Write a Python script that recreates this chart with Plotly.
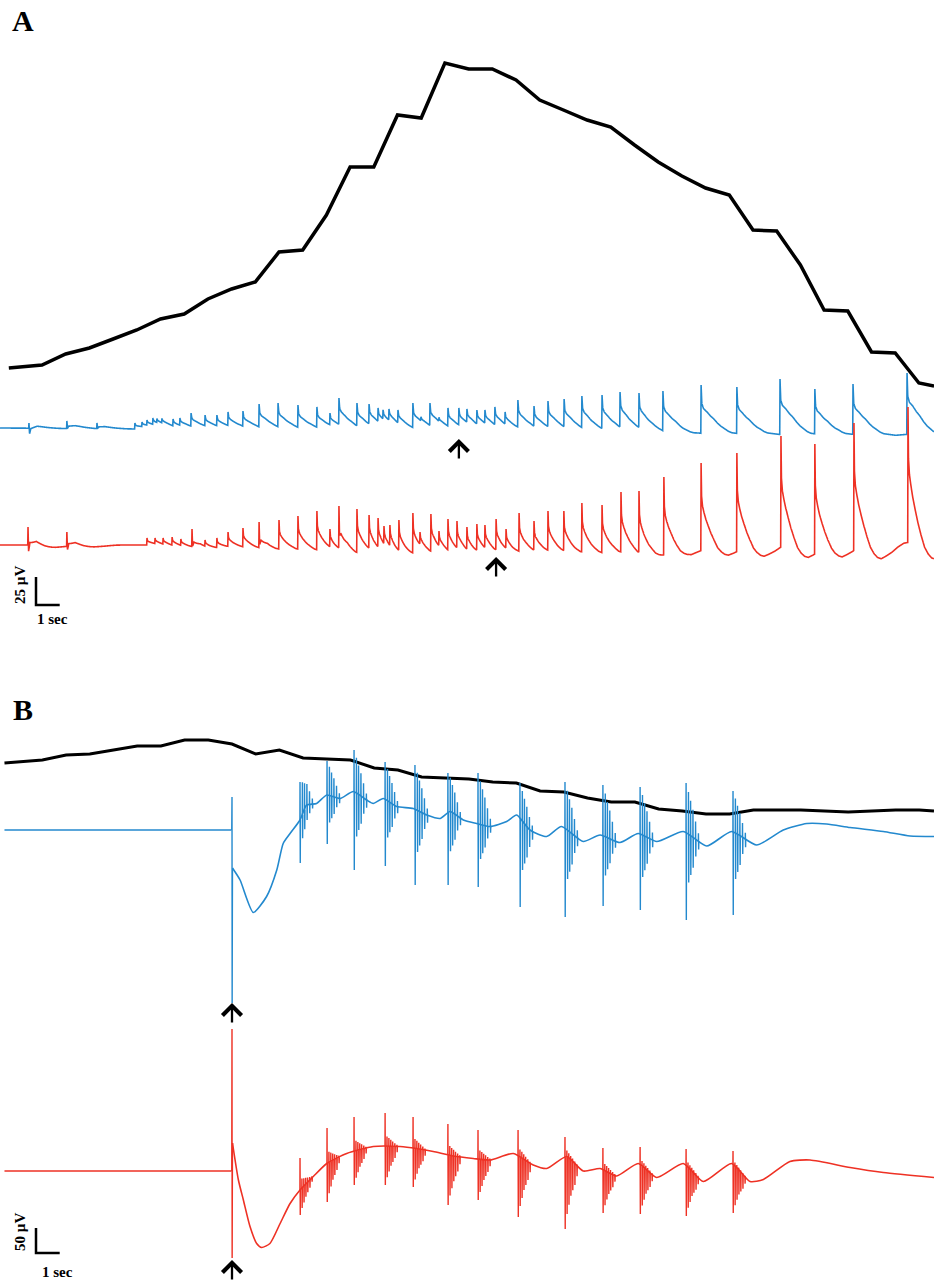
import numpy as np
import plotly.graph_objects as go

# ======================= DATA =======================
# ---- Panel A (time in s, traces in µV, black curve in arbitrary units) ----
A_black_t = [-0.4, 1, 2, 3, 4, 5, 6, 7, 8, 9, 10, 11, 12, 13, 14, 15, 16, 17, 18, 19, 20,
             21, 22, 23, 24, 25, 26, 27, 28, 29, 30, 31, 32, 33, 34, 35, 36, 37, 38, 38.64]
A_black_v = [3.2, 3.5, 4.6, 5.2, 6.1, 7.0, 8.1, 8.6, 10.1, 11.1, 11.8, 14.8, 15.0, 18.5, 23.3,
             23.3, 28.5, 28.2, 33.7, 33.1, 33.1, 32.0, 30.0, 29.0, 28.0, 27.3, 25.5, 23.8, 22.4,
             21.2, 20.5, 17.0, 16.9, 13.5, 9.0, 8.9, 4.8, 4.7, 1.7, 1.4]

A_blue_t = [0.45, 2.05, 3.32, 4.92, 5.22, 5.43, 5.68, 5.85, 6.06, 6.53, 6.82, 7.29, 7.88, 8.38,
            8.85, 9.48, 10.16, 10.96, 11.80, 12.60, 13.15, 13.53, 14.29, 14.80, 15.18, 15.39,
            15.64, 16.02, 16.65, 16.99, 17.37, 17.75, 18.13, 18.59, 18.93, 19.35, 19.69, 20.11,
            20.54, 21.08, 21.76, 22.35, 23.03, 23.78, 24.63, 25.39, 26.19, 27.20, 28.81, 30.32,
            32.14, 33.61, 35.22, 37.50]
A_blue_peak = [4.5, 6.3, 4.5, 4.5, 5.4, 7.1, 8.9, 7.1, 8.0, 8.0, 8.9, 13.4, 11.6, 11.6, 14.3,
               15.2, 21.4, 22.3, 20.5, 18.8, 13.4, 26.8, 22.3, 21.4, 17.9, 16.1, 17.0, 16.1,
               22.3, 7.1, 22.3, 7.1, 17.9, 17.9, 17.0, 16.1, 16.1, 18.8, 14.3, 25.0, 19.6, 24.1,
               25.9, 28.6, 29.5, 32.1, 31.3, 33.0, 38.4, 36.6, 43.8, 34.8, 39.3, 49.1]
A_blue_neg_t = [0.45, 2.05, 3.32]
A_blue_neg_v = [-8.0, -4.1, -3.0]
A_blue_drift_t = [-0.8, 18.6, 38.7]
A_blue_drift_v = [0.0, -2.7, -5.4]

A_red_t = [0.41, 2.05, 5.43, 5.77, 6.11, 6.49, 6.86, 7.33, 7.88, 8.38, 8.85, 9.48, 10.16, 11.00,
           11.80, 12.60, 13.15, 13.53, 14.29, 14.80, 15.18, 15.43, 15.68, 16.06, 16.65, 16.95,
           17.41, 17.75, 18.13, 18.51, 18.93, 19.35, 19.69, 20.16, 20.58, 21.13, 21.76, 22.35,
           23.02, 23.78, 24.63, 25.43, 26.19, 27.24, 28.81, 30.32, 32.18, 33.61, 35.26, 37.54]
A_red_peak = [16.1, 11.6, 6.3, 6.3, 6.3, 7.1, 5.4, 14.3, 4.5, 6.3, 11.6, 15.2, 20.5, 22.3, 25.9,
              30.4, 14.3, 34.8, 32.1, 26.8, 24.1, 17.0, 17.9, 22.3, 28.6, 11.6, 27.7, 12.5, 23.2,
              21.4, 16.1, 18.8, 17.9, 23.2, 14.3, 28.6, 21.4, 30.4, 30.4, 37.5, 35.7, 47.3, 48.2,
              60.7, 73.2, 82.2, 97.3, 90.2, 108.9, 123.2]
A_red_neg_t = [0.41, 2.05, 7.33, 10.16, 13.53]
A_red_neg_v = [-15.2, -10.7, -8.9, -10.7, -10.7]
A_red_drift_t = [-0.8, 25.0, 38.7]
A_red_drift_v = [0.0, 0.0, 3.0]

A_arrow_blue_t = 18.59
A_arrow_red_t = 20.16

# ---- Panel B (time in s relative to stimulus) ----
B_black_t = [-9.6, -8, -7, -6, -5, -4, -3, -2, -1, 0, 1, 2, 3, 4, 5, 6, 7, 8, 9, 10, 11, 12,
             13, 14, 15, 16, 17, 18, 19, 20, 21, 22, 23, 24, 25, 26, 27, 28, 29, 29.62]
B_black_v = [5.7, 6.0, 6.5, 6.6, 7.0, 7.4, 7.4, 8.0, 8.0, 7.6, 6.6, 7.0, 6.2, 6.1, 6.0, 5.2,
             5.0, 4.3, 4.2, 4.1, 3.8, 3.7, 2.9, 2.8, 2.2, 1.8, 1.8, 1.1, 0.9, 0.6, 0.6, 1.0,
             1.0, 1.0, 0.9, 0.8, 0.9, 1.0, 1.0, 0.9]

B_blue_slow_t = [-9.6, -0.02, 0.02, 0.34, 0.90, 1.46, 1.89, 2.16, 2.45, 2.87, 3.15, 3.57, 4.00,
                 4.56, 5.12, 5.68, 5.96, 6.38, 6.95, 7.65, 8.22, 8.78, 9.20, 9.76, 10.32, 10.89,
                 11.59, 12.01, 12.57, 13.28, 13.90, 14.82, 15.53, 16.37, 17.14, 17.92, 19.04,
                 20.03, 21.08, 22.14, 23.26, 24.25, 25.09, 26.08, 27.48, 28.61, 29.62]
B_blue_slow_v = [0, 0, -76, -100, -165, -133, -80, -27, -7, 20, 50, 53, 70, 63, 77, 60, 53, 63,
                 47, 43, 30, 23, 37, 20, 13, 7, 17, 30, 0, -13, 7, -23, -10, -25, -7, -23, -3,
                 -32, -3, -30, 0, 13, 12, 5, -3, -12, -13]
B_blue_stim = [66, -346]
B_blue_burst_t = [2.87, 4.01, 5.15, 6.46, 7.72, 9.11, 10.38, 12.15, 14.05, 15.65, 17.22, 19.16, 21.14]
B_blue_burst_top = [96, 138, 160, 136, 130, 114, 114, 94, 96, 90, 86, 94, 78]
B_blue_burst_bot = [-66, -28, -80, -72, -110, -110, -114, -154, -174, -152, -160, -180, -170]

B_red_slow_t = [-9.6, -0.02, 0.02, 0.27, 0.48, 0.76, 1.04, 1.25, 1.60, 2.03, 2.45, 2.87, 3.43,
                4.00, 4.84, 5.96, 7.09, 7.79, 8.49, 9.34, 10.18, 10.89, 11.87, 12.71, 13.28,
                14.12, 14.82, 15.53, 16.23, 17.14, 17.92, 19.04, 19.89, 21.08, 21.86, 22.42,
                23.54, 24.39, 26.08, 27.48, 29.62]
B_red_slow_v = [0, 0, 56, -18, -58, -111, -145, -153, -145, -105, -65, -38, -11, 15, 35, 49, 49,
                45, 39, 30, 25, 22, 35, 12, 5, 29, 0, 5, -10, 15, -13, 15, -21, 15, -21, -17, 19,
                22, 7, -3, -13]
B_red_stim = [284, -174]
B_red_burst_t = [2.87, 4.01, 5.15, 6.46, 7.64, 9.11, 10.38, 12.07, 14.05, 15.65, 17.22, 19.16, 21.14]
B_red_burst_top = [26, 86, 108, 116, 108, 94, 82, 82, 68, 46, 48, 44, 40]
B_red_burst_bot = [-88, -62, -28, -28, -32, -68, -58, -92, -116, -84, -86, -90, -84]

# ======================= WAVEFORM SHAPES (style) =======================
BLUE_TPL_T = [-0.012, 0, 0.03, 0.1, 0.25, 0.4, 0.53, 0.7, 0.85, 1.0, 1.15, 1.3, 1.8, 2.5]
BLUE_TPL_F = [0, 1, 0.62, 0.52, 0.45, 0.36, 0.3, 0.2, 0.13, 0.08, 0.03, 0.0, -0.03, 0]
RED_TPL_T = [-0.012, 0, 0.02, 0.06, 0.12, 0.2, 0.3, 0.42, 0.55, 0.7, 0.85, 1.0, 1.15, 1.35,
             1.6, 1.85, 2.1, 2.4]
RED_TPL_F = [0, 1, 0.62, 0.5, 0.42, 0.33, 0.24, 0.14, 0.05, -0.04, -0.09, -0.12, -0.13, -0.11,
             -0.08, -0.04, -0.01, 0]
NEG_T = [0, 0.025, 0.08, 0.35]
NEG_F = [0, 1, 0.35, 0]
# burst sub-spikes: (time offset s, fraction of up excursion, fraction of down excursion)
BLUE_BURST = [(0.0, 1.0, 1.0), (0.1, 0.85, 0.55), (0.19, 0.7, 0.45), (0.29, 0.55, 0.35),
              (0.4, 0.35, 0.2), (0.52, 0.15, 0.1)]
RED_BURST = [(0.0, 1.0, 1.0), (0.08, 0.3, 0.8), (0.16, 0.25, 0.65), (0.24, 0.2, 0.5),
             (0.32, 0.15, 0.4), (0.41, 0.1, 0.3), (0.5, 0.05, 0.15)]


def spike_trace(times, peaks, tpl_t, tpl_f, neg_t, neg_v, drift_t, drift_v, t_lo, t_hi):
    times = np.asarray(times, float)
    grid = np.unique(np.concatenate([np.arange(t_lo, t_hi, 0.005), times, times + 0.02,
                                     np.asarray(neg_t) + 0.025]))
    placed = []
    for i in np.argsort(times):
        t0 = times[i]
        resid = np.interp(t0, drift_t, drift_v)
        for tj, a in placed:
            resid += a * np.interp(t0 - tj, tpl_t, tpl_f, left=0, right=0)
        a = max(peaks[i] - resid, 0.5 * peaks[i])
        placed.append((t0, a))
    v = np.interp(grid, drift_t, drift_v)
    for t0, a in placed:
        v = v + a * np.interp(grid - t0, tpl_t, tpl_f, left=0, right=0)
    for t0, nv in zip(neg_t, neg_v):
        v = v + nv * np.interp(grid - t0, NEG_T, NEG_F, left=0, right=0)
    return grid, v


def burst_segments(slow_t, slow_v, stim, b_t, b_top, b_bot, pattern):
    """Fast events drawn on top of the slow wave; segments separated by None."""
    st = np.asarray(slow_t, float)
    sv = np.asarray(slow_v, float)
    X, Y = [], []
    X += [-0.01, 0.0, 0.006, 0.02, None]
    Y += [0.0, stim[0], stim[1], float(np.interp(0.02, st, sv)), None]
    for tb, top, bot in zip(b_t, b_top, b_bot):
        s0 = np.interp(tb, st, sv)
        up, dn = top - s0, s0 - bot
        for dt, fu, fd in pattern:
            t = tb + dt
            s = float(np.interp(t, st, sv))
            X += [t - 0.004, t, t + 0.01, t + 0.018, None]
            Y += [s, s + fu * up, s - fd * dn, s, None]
    return X, Y


# ======================= LAYOUT GEOMETRY =======================
W, H = 934, 1281
PX_PER_S = 23.7
A_T0_PX = 18.3     # pixel column of t = 0 in panel A
B_T0_PX = 232.0    # pixel column of stimulus in panel B
A_DOM = (0.0, 640.5)
B_DOM = (640.5, 1281.0)


def yrange(base_px, per_px, dom):
    return [-(dom[1] - base_px) * per_px, (base_px - dom[0]) * per_px]


A_UV = 25.0 / 28.0
B_UV = 2.0
BLUE = "#2389CE"
RED = "#EE3124"
LW = 1.6

a_xr = [(0 - A_T0_PX) / PX_PER_S, (W - A_T0_PX) / PX_PER_S]
b_xr = [(0 - B_T0_PX) / PX_PER_S, (W - B_T0_PX) / PX_PER_S]

tb_, vb_ = spike_trace(A_blue_t, A_blue_peak, BLUE_TPL_T, BLUE_TPL_F, A_blue_neg_t,
                       A_blue_neg_v, A_blue_drift_t, A_blue_drift_v, a_xr[0], a_xr[1])
tr_, vr_ = spike_trace(A_red_t, A_red_peak, RED_TPL_T, RED_TPL_F, A_red_neg_t,
                       A_red_neg_v, A_red_drift_t, A_red_drift_v, a_xr[0], a_xr[1])
Bxb, Byb = burst_segments(B_blue_slow_t, B_blue_slow_v, B_blue_stim, B_blue_burst_t,
                          B_blue_burst_top, B_blue_burst_bot, BLUE_BURST)
Bxr, Byr = burst_segments(B_red_slow_t, B_red_slow_v, B_red_stim, B_red_burst_t,
                          B_red_burst_top, B_red_burst_bot, RED_BURST)

fig = go.Figure()


def line(x, y, xa, ya, color, width, shape="linear"):
    ln = dict(color=color, width=width, simplify=False, shape=shape)
    if shape == "spline":
        ln["smoothing"] = 0.6
    fig.add_trace(go.Scatter(x=x, y=y, mode="lines", xaxis=xa, yaxis=ya, hoverinfo="skip",
                             connectgaps=False, line=ln))


def slow_parts(t, v):
    t = list(t)
    v = list(v)
    k = next(i for i, x in enumerate(t) if x > 0)
    return (t[:k], v[:k]), (t[k:], v[k:])


line(tb_, vb_, "x", "y2", BLUE, LW)
line(tr_, vr_, "x", "y3", RED, LW)
line(A_black_t, A_black_v, "x", "y", "black", 3.5)

(pb_t, pb_v), (qb_t, qb_v) = slow_parts(B_blue_slow_t, B_blue_slow_v)
line(pb_t, pb_v, "x2", "y5", BLUE, LW)
line(qb_t, qb_v, "x2", "y5", BLUE, LW, "spline")
line(Bxb, Byb, "x2", "y5", BLUE, 1.4)
(pr_t, pr_v), (qr_t, qr_v) = slow_parts(B_red_slow_t, B_red_slow_v)
line(pr_t, pr_v, "x2", "y6", RED, LW)
line(qr_t, qr_v, "x2", "y6", RED, LW, "spline")
line(Bxr, Byr, "x2", "y6", RED, 1.4)
line(B_black_t, B_black_v, "x2", "y4", "black", 3)

hid = dict(visible=False, showgrid=False, zeroline=False, fixedrange=True)


def pdom(dom):
    return [1 - dom[1] / H, 1 - dom[0] / H]


fig.update_layout(
    width=W, height=H, margin=dict(l=0, r=0, t=0, b=0),
    paper_bgcolor="white", plot_bgcolor="rgba(0,0,0,0)", showlegend=False,
    xaxis=dict(domain=[0, 1], range=a_xr, anchor="y", **hid),
    yaxis=dict(domain=pdom(A_DOM), range=yrange(400, 0.1, A_DOM), anchor="x", **hid),
    yaxis2=dict(overlaying="y", anchor="x", range=yrange(428, A_UV, A_DOM), **hid),
    yaxis3=dict(overlaying="y", anchor="x", range=yrange(545, A_UV, A_DOM), **hid),
    xaxis2=dict(domain=[0, 1], range=b_xr, anchor="y4", **hid),
    yaxis4=dict(domain=pdom(B_DOM), range=yrange(820, 0.1, B_DOM), anchor="x2", **hid),
    yaxis5=dict(overlaying="y4", anchor="x2", range=yrange(830, B_UV, B_DOM), **hid),
    yaxis6=dict(overlaying="y4", anchor="x2", range=yrange(1171, B_UV, B_DOM), **hid),
)

SERIF = "Liberation Serif"
ann = []


def ptxt(text, px, py, size, angle=0):
    ann.append(dict(text=text, x=px / W, y=1 - py / H, xref="paper", yref="paper",
                    showarrow=False, xanchor="center", yanchor="middle", textangle=angle,
                    font=dict(family=SERIF, size=size, color="black")))


ptxt("<b>A</b>", 23, 20, 30)
ptxt("<b>B</b>", 23, 710, 30)
ptxt("<b>25 µV</b>", 20, 585, 15, -90)
ptxt("<b>1 sec</b>", 52, 619, 15)
ptxt("<b>50 µV</b>", 20, 1232, 15, -90)
ptxt("<b>1 sec</b>", 57, 1272, 15)


def arrow(x, y, xref, yref):
    ann.append(dict(x=x, y=y, xref=xref, yref=yref, ax=0, ay=21, text="", showarrow=True,
                    arrowhead=4, arrowsize=1.6, arrowwidth=2.3, arrowcolor="black"))


arrow(A_arrow_blue_t, (428 - 439) * A_UV, "x", "y2")
arrow(A_arrow_red_t, (545 - 557) * A_UV, "x", "y3")
arrow(0.0, (830 - 1003) * B_UV, "x2", "y5")
arrow(0.0, (1171 - 1260) * B_UV, "x2", "y6")
fig.update_layout(annotations=ann)

# scale bars
sa_t = (36 - A_T0_PX) / PX_PER_S
sa_y0 = (545 - 605) * A_UV
sb_t = (36 - B_T0_PX) / PX_PER_S
sb_y0 = (1171 - 1253) * B_UV
fig.add_shape(type="path", xref="x", yref="y3",
              path=f"M {sa_t} {sa_y0 + 25} L {sa_t} {sa_y0} L {sa_t + 1} {sa_y0}",
              line=dict(color="black", width=2.5))
fig.add_shape(type="path", xref="x2", yref="y6",
              path=f"M {sb_t} {sb_y0 + 50} L {sb_t} {sb_y0} L {sb_t + 1} {sb_y0}",
              line=dict(color="black", width=2.5))

fig.write_html("out.html")
